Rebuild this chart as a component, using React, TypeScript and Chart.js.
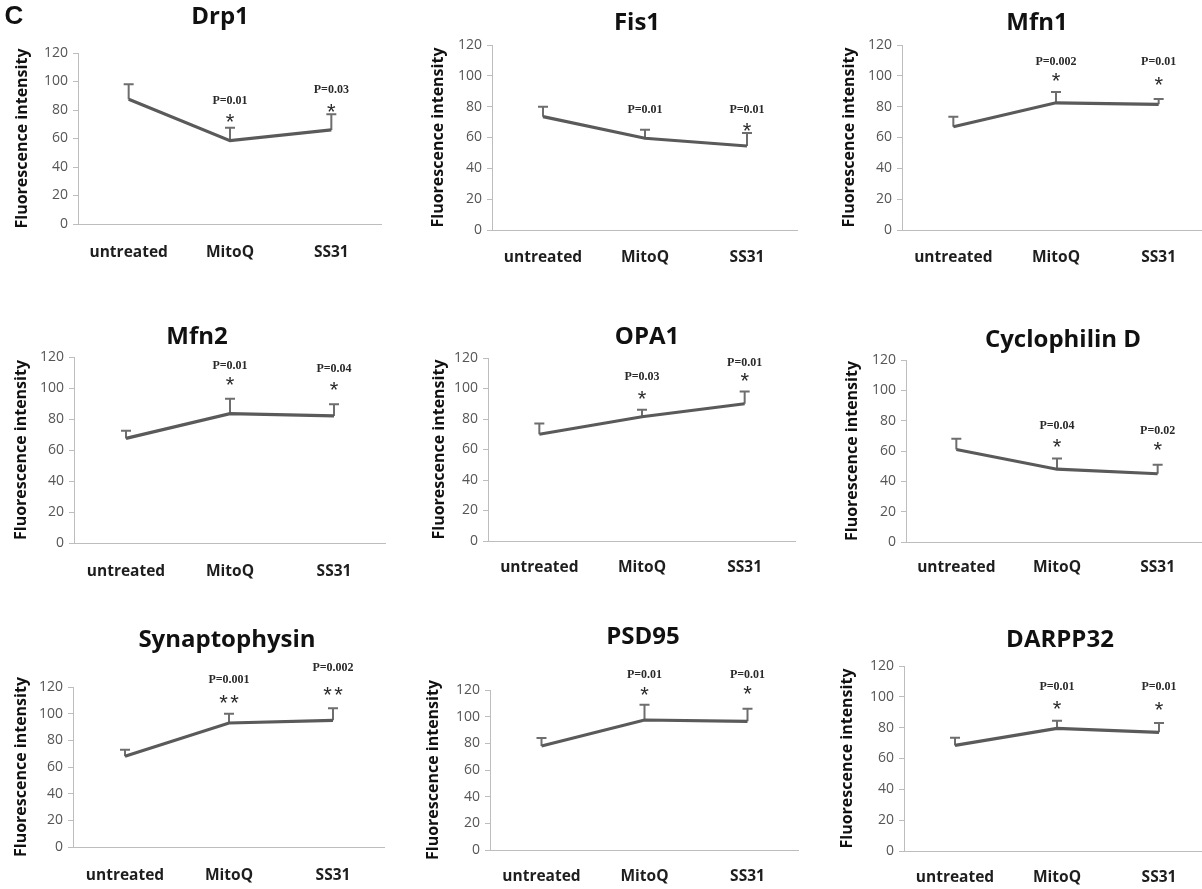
import React, { useEffect, useRef } from "react";
import { Chart, registerables } from "chart.js";

Chart.register(...registerables);

// ---------- data ----------
const categories = ["untreated", "MitoQ", "SS31"];
const yTickValues = [0, 20, 40, 60, 80, 100, 120];
const yAxisTitle = "Fluorescence intensity";
const panelLetter = "C";

const titles = ["Drp1", "Fis1", "Mfn1", "Mfn2", "OPA1", "Cyclophilin D", "Synaptophysin", "PSD95", "DARPP32"];

const drp1Mean = [87.5, 58.5, 66];
const drp1Err = [10.5, 9, 11];
const fis1Mean = [73.5, 59.5, 54.5];
const fis1Err = [6.5, 5.5, 8.5];
const mfn1Mean = [67, 82.5, 81.5];
const mfn1Err = [6.5, 7, 3.5];
const mfn2Mean = [67.5, 83.5, 82];
const mfn2Err = [5, 9.5, 7.5];
const opa1Mean = [70, 81.5, 90];
const opa1Err = [7, 4.5, 8];
const cypdMean = [61, 48, 45];
const cypdErr = [7, 7, 6];
const synMean = [68, 93, 95];
const synErr = [5, 7, 9];
const psd95Mean = [78, 97.5, 96.5];
const psd95Err = [6, 11.5, 9.5];
const darppMean = [68.5, 79.5, 77];
const darppErr = [5, 5, 6];

// significance labels (text) and the value level they sit at
const drp1P = ["", "P=0.01", "P=0.03"];
const drp1Stars = ["", "*", "*"];
const drp1PAt = [0, 86.5, 94];
const drp1StarAt = [0, 75, 82];

const fis1P = ["", "P=0.01", "P=0.01"];
const fis1Stars = ["", "", "*"];
const fis1PAt = [0, 78, 78];
const fis1StarAt = [0, 0, 67.5];

const mfn1P = ["", "P=0.002", "P=0.01"];
const mfn1Stars = ["", "*", "*"];
const mfn1PAt = [0, 109, 109];
const mfn1StarAt = [0, 100, 97.5];

const mfn2P = ["", "P=0.01", "P=0.04"];
const mfn2Stars = ["", "*", "*"];
const mfn2PAt = [0, 114, 112.5];
const mfn2StarAt = [0, 105.5, 102];

const opa1P = ["", "P=0.03", "P=0.01"];
const opa1Stars = ["", "*", "*"];
const opa1PAt = [0, 107.5, 117];
const opa1StarAt = [0, 96.5, 108];

const cypdP = ["", "P=0.04", "P=0.02"];
const cypdStars = ["", "*", "*"];
const cypdPAt = [0, 76.5, 73.5];
const cypdStarAt = [0, 66, 64];

const synP = ["", "P=0.001", "P=0.002"];
const synStars = ["", "**", "**"];
const synPAt = [0, 125, 134];
const synStarAt = [0, 112, 118];

const psd95P = ["", "P=0.01", "P=0.01"];
const psd95Stars = ["", "*", "*"];
const psd95PAt = [0, 131.5, 131];
const psd95StarAt = [0, 120, 121];

const darppP = ["", "P=0.01", "P=0.01"];
const darppStars = ["", "*", "*"];
const darppPAt = [0, 106.5, 106.5];
const darppStarAt = [0, 95.3, 94.7];

const panels = [
  { title: titles[0], mean: drp1Mean, err: drp1Err, p: drp1P, stars: drp1Stars, pAt: drp1PAt, starAt: drp1StarAt },
  { title: titles[1], mean: fis1Mean, err: fis1Err, p: fis1P, stars: fis1Stars, pAt: fis1PAt, starAt: fis1StarAt },
  { title: titles[2], mean: mfn1Mean, err: mfn1Err, p: mfn1P, stars: mfn1Stars, pAt: mfn1PAt, starAt: mfn1StarAt },
  { title: titles[3], mean: mfn2Mean, err: mfn2Err, p: mfn2P, stars: mfn2Stars, pAt: mfn2PAt, starAt: mfn2StarAt },
  { title: titles[4], mean: opa1Mean, err: opa1Err, p: opa1P, stars: opa1Stars, pAt: opa1PAt, starAt: opa1StarAt },
  { title: titles[5], mean: cypdMean, err: cypdErr, p: cypdP, stars: cypdStars, pAt: cypdPAt, starAt: cypdStarAt },
  { title: titles[6], mean: synMean, err: synErr, p: synP, stars: synStars, pAt: synPAt, starAt: synStarAt },
  { title: titles[7], mean: psd95Mean, err: psd95Err, p: psd95P, stars: psd95Stars, pAt: psd95PAt, starAt: psd95StarAt },
  { title: titles[8], mean: darppMean, err: darppErr, p: darppP, stars: darppStars, pAt: darppPAt, starAt: darppStarAt },
];

// ---------- layout (page pixels) ----------
// colLeft,rowTop: canvas origin; ax/ar: plot left/right; ty/by: y=120 / y=0; ylx: y-title centre x;
// tcx/tcy: title centre; xly: category label centre y
const layouts = [
  { colLeft: 0, rowTop: 0, ax: 78, ar: 382, ty: 53, by: 224, ylx: 22, tcx: 220, tcy: 17, xly: 253 },
  { colLeft: 400, rowTop: 0, ax: 492, ar: 798, ty: 45, by: 230, ylx: 438, tcx: 637, tcy: 23, xly: 258 },
  { colLeft: 800, rowTop: 0, ax: 902, ar: 1210, ty: 45, by: 230, ylx: 849, tcx: 1037, tcy: 23, xly: 258 },
  { colLeft: 0, rowTop: 290, ax: 74, ar: 386, ty: 357, by: 543, ylx: 21, tcx: 197, tcy: 337, xly: 572 },
  { colLeft: 400, rowTop: 290, ax: 488, ar: 796, ty: 358, by: 541, ylx: 439, tcx: 647, tcy: 337, xly: 568 },
  { colLeft: 800, rowTop: 290, ax: 906, ar: 1208, ty: 360, by: 542, ylx: 852, tcx: 1063, tcy: 340, xly: 568 },
  { colLeft: 0, rowTop: 590, ax: 73, ar: 385, ty: 687, by: 847, ylx: 21, tcx: 227, tcy: 640, xly: 876 },
  { colLeft: 400, rowTop: 590, ax: 490, ar: 799, ty: 690, by: 850, ylx: 433, tcx: 643, tcy: 637, xly: 877 },
  { colLeft: 800, rowTop: 590, ax: 904, ar: 1210, ty: 666, by: 851, ylx: 847, tcx: 1060, tcy: 640, xly: 878 },
];

const SANS = '"Open Sans", "DejaVu Sans", sans-serif';
const SERIF = '"Liberation Serif", "DejaVu Serif", serif';
const AXIS_GRAY = "#bdbdbd";
const LINE_GRAY = "#5a5a5a";
const ERR_GRAY = "#6e6e6e";
const YTITLE_SIZE = 16;
const XLABEL_SIZE = 15.5;

function Panel({ idx }: { idx: number }) {
  const ref = useRef<HTMLCanvasElement | null>(null);
  const L = layouts[idx];
  const W = L.ar - L.colLeft;
  const H = L.xly - L.rowTop + 14;

  useEffect(() => {
    const P = panels[idx];
    const yW = L.ax - L.colLeft;
    const xH = H - (L.by - L.rowTop);
    const xPad = L.xly - L.by - (XLABEL_SIZE * 1.2) / 2;
    const yTitlePad = L.ylx - L.colLeft - YTITLE_SIZE / 2;

    const errorBars = {
      id: "errorBars" + idx,
      beforeDatasetsDraw(chart: any) {
        const { ctx } = chart;
        const y = chart.scales.y;
        const meta = chart.getDatasetMeta(0);
        ctx.save();
        ctx.strokeStyle = ERR_GRAY;
        ctx.lineWidth = 2;
        meta.data.forEach((pt: any, i: number) => {
          const top = y.getPixelForValue(P.mean[i] + P.err[i]);
          ctx.beginPath();
          ctx.moveTo(pt.x, pt.y);
          ctx.lineTo(pt.x, top);
          ctx.moveTo(pt.x - 5, top);
          ctx.lineTo(pt.x + 5, top);
          ctx.stroke();
        });
        ctx.restore();
      },
    };

    const sigLabels = {
      id: "sigLabels" + idx,
      afterDatasetsDraw(chart: any) {
        const { ctx } = chart;
        const x = chart.scales.x;
        const y = chart.scales.y;
        ctx.save();
        ctx.fillStyle = "#2a2a2a";
        ctx.textAlign = "center";
        ctx.textBaseline = "middle";
        P.p.forEach((txt: string, i: number) => {
          if (!txt) return;
          ctx.font = `bold 12px ${SERIF}`;
          ctx.fillText(txt, x.getPixelForValue(i), y.getPixelForValue(P.pAt[i]));
        });
        P.stars.forEach((s: string, i: number) => {
          if (!s) return;
          ctx.font = `22px "Liberation Sans", sans-serif`;
          const cx = x.getPixelForValue(i);
          const cy = y.getPixelForValue(P.starAt[i]) + 6;
          const n = s.length;
          for (let k = 0; k < n; k++) {
            ctx.fillText(s[k], cx + (k - (n - 1) / 2) * 11, cy);
          }
        });
        ctx.restore();
      },
    };

    const panelTitle = {
      id: "panelTitle" + idx,
      afterDraw(chart: any) {
        const { ctx } = chart;
        ctx.save();
        ctx.fillStyle = "#111";
        ctx.textAlign = "center";
        ctx.textBaseline = "middle";
        ctx.font = `bold 24px ${SANS}`;
        ctx.fillText(P.title, L.tcx - L.colLeft, L.tcy - L.rowTop);
        if (idx === 0) {
          ctx.font = `bold 26px "Liberation Sans", sans-serif`;
          ctx.fillText(panelLetter, 14, 17);
        }
        ctx.restore();
      },
    };

    const chart = new Chart(ref.current as HTMLCanvasElement, {
      type: "line",
      data: {
        labels: categories,
        datasets: [
          {
            data: P.mean,
            borderColor: LINE_GRAY,
            borderWidth: 3.2,
            pointRadius: 0,
            tension: 0,
            fill: false,
          },
        ],
      },
      options: {
        responsive: false,
        animation: false,
        devicePixelRatio: 1,
        events: [],
        layout: { padding: { left: 0, right: 0, top: L.ty - L.rowTop, bottom: 0 } },
        plugins: { legend: { display: false }, tooltip: { enabled: false }, title: { display: false } },
        scales: {
          x: {
            type: "category",
            offset: true,
            grid: { display: false, drawTicks: false },
            border: { display: true, color: AXIS_GRAY, width: 1 },
            ticks: {
              color: "#1e1e1e",
              font: { family: SANS, size: XLABEL_SIZE, weight: "bold" },
              padding: xPad,
              maxRotation: 0,
              autoSkip: false,
            },
            afterFit: (s: any) => {
              s.height = xH;
            },
          },
          y: {
            min: 0,
            max: 120,
            afterBuildTicks: (s: any) => {
              s.ticks = yTickValues.map((v) => ({ value: v }));
            },
            ticks: { color: "#555555", font: { family: SANS, size: 14 }, padding: 5 },
            grid: { drawOnChartArea: false, drawTicks: true, tickLength: 5, color: AXIS_GRAY },
            border: { display: true, color: AXIS_GRAY, width: 1 },
            title: {
              display: true,
              text: yAxisTitle,
              color: "#111",
              font: { family: SANS, size: YTITLE_SIZE, weight: "bold", lineHeight: 1 },
              padding: { top: yTitlePad, bottom: 0 },
            },
            afterFit: (s: any) => {
              s.width = yW;
            },
          },
        },
      },
      plugins: [errorBars, sigLabels, panelTitle],
    } as any);
    return () => chart.destroy();
  }, [idx]);

  return (
    <canvas
      ref={ref}
      width={W}
      height={H}
      style={{ position: "absolute", left: L.colLeft, top: L.rowTop, width: W, height: H }}
    />
  );
}

export default function App() {
  return (
    <div
      style={{
        position: "absolute",
        left: 0,
        top: 0,
        width: 1202,
        height: 889,
        overflow: "hidden",
        background: "#fff",
      }}
    >
      {panels.map((_, i) => (
        <Panel key={i} idx={i} />
      ))}
    </div>
  );
}
